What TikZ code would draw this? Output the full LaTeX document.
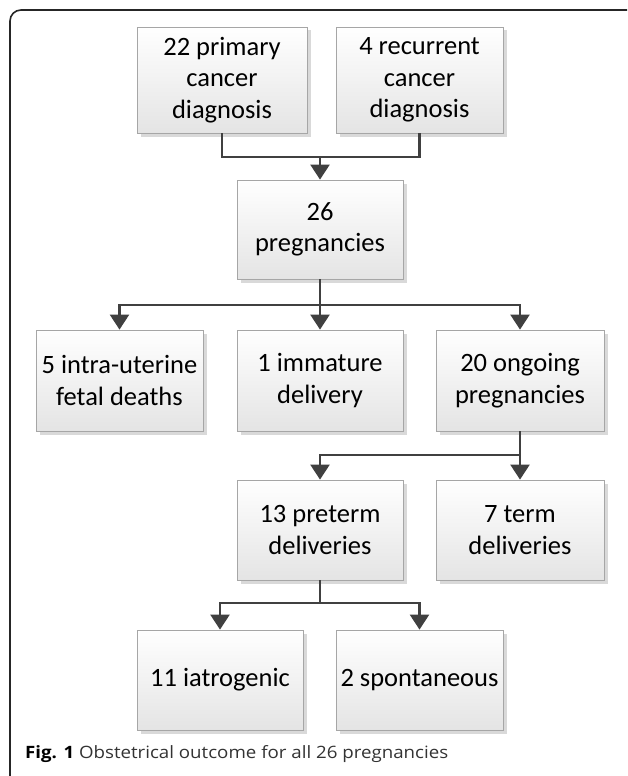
\documentclass[tikz,border=0pt]{standalone}
\usepackage{fontspec}
\setmainfont{Carlito}
\newfontfamily\capfont{Open Sans}
\usetikzlibrary{arrows.meta,shadows}
\definecolor{linec}{HTML}{404040}
\definecolor{boxborder}{HTML}{A6A6A6}
\definecolor{boxbot}{HTML}{E4E4E4}
\definecolor{shadowc}{HTML}{D9D9D9}
\begin{document}
\begin{tikzpicture}[x=1pt,y=-1pt,
  fbox/.style={draw=boxborder, line width=0.8pt, top color=white, bottom color=boxbot,
    general shadow={shadow xshift=3.5pt, shadow yshift=-3.5pt, fill=shadowc},
    minimum width=167pt, minimum height=101pt, inner sep=0pt, align=center,
    font=\fontsize{26.5}{31.5}\selectfont},
  conn/.style={draw=linec, line width=2.4pt},
  arr/.style={conn, -{Triangle[width=19pt,length=15pt]}}]
\useasboundingbox (0,0) rectangle (627,776);
\fill[white] (0,0) rectangle (627,776);
% frame
\draw[line width=1.6pt, color=black!85] (10,776) -- (10,21) arc[start angle=180,end angle=270,radius=11] -- (627,10);
% nodes
\node[fbox, minimum width=170pt, minimum height=106pt] (b1) at (222,80) {22 primary\\cancer\\diagnosis};
\node[fbox, minimum height=106pt] (b2) at (419.5,80) {4 recurrent\\cancer\\diagnosis};
\node[fbox, minimum width=166pt, minimum height=99pt] (b26) at (320,229.5) {26\\pregnancies};
\node[fbox] (bA) at (119.5,380.5) {5 intra-uterine\\fetal deaths};
\node[fbox, minimum width=166pt] (bB) at (320,380.5) {1 immature\\delivery};
\node[fbox, minimum width=168pt] (bC) at (520,380.5) {20 ongoing\\pregnancies};
\node[fbox, minimum width=166pt, minimum height=100pt] (bP) at (320,530) {13 preterm\\deliveries};
\node[fbox, minimum width=168pt, minimum height=100pt] (bT) at (520,530) {7 term\\deliveries};
\node[fbox, minimum width=166pt, minimum height=100pt] (bI) at (220,680) {11 iatrogenic};
\node[fbox, minimum height=100pt] (bS) at (419.5,680) {2 spontaneous};
% junctions
\coordinate (j1) at (320,157);
\coordinate (j2) at (320,305);
\coordinate (j3) at (520,455);
\coordinate (j4) at (320,603);
% connectors
\draw[conn] (b1.south) |- (j1);
\draw[conn] (b2.south) |- (j1);
\draw[arr] (j1) -- (b26.north);
\draw[conn] (b26.south) -- (j2);
\draw[arr] (j2) -| (bA.north);
\draw[arr] (j2) -- (bB.north);
\draw[arr] (j2) -| (bC.north);
\draw[conn] (bC.south) -- (j3);
\draw[arr] (j3) -| (bP.north);
\draw[arr] (j3) -- (bT.north);
\draw[conn] (bP.south) -- (j4);
\draw[arr] (j4) -| (bI.north);
\draw[arr] (j4) -| (bS.north);
% caption
\node[anchor=base west, inner sep=0pt, font=\capfont\fontsize{17}{20}\selectfont] (cap) at (25,758) {\scalebox{1.1}[1]{\textbf{Fig. 1} \textcolor{black!80}{Obstetrical outcome for all 26 pregnancies}}};
\end{tikzpicture}
\end{document}
